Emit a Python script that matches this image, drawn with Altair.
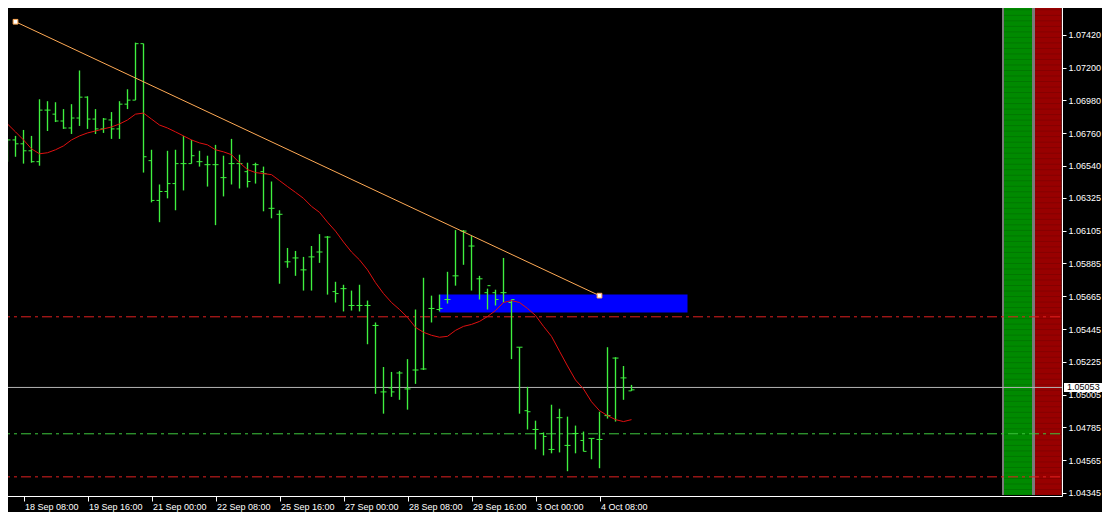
import altair as alt
import numpy as np
import pandas as pd

# ---------------- data ----------------
bar_index = list(range(-1, 79))
open_ = [1.06588, 1.06575, 1.06714, 1.06688, 1.06641, 1.06568, 1.06914, 1.06887, 1.06841, 1.06794,
         1.06861, 1.07001, 1.06854, 1.06788, 1.06848, 1.06788, 1.06954, 1.06981, 1.07360, 1.06575,
         1.06308, 1.06368, 1.06421, 1.06555, 1.06555, 1.06568, 1.06548, 1.06548, 1.06461, 1.06555,
         1.06555, 1.06501, 1.06548, 1.06501, 1.06255, 1.06215, 1.05896, 1.05922, 1.05842, 1.05929,
         1.05962, 1.06062, 1.05696, 1.05716, 1.05603, 1.05603, 1.05603, 1.05469, 1.05023, 1.05050,
         1.05150, 1.05043, 1.05170, 1.05177, 1.05583, 1.05576, 1.05643, 1.05802, 1.06102, 1.06002,
         1.05782, 1.05689, 1.05689, 1.05689, 1.05623, 1.05323, 1.04897, 1.04771, 1.04744, 1.04637,
         1.04850, 1.04664, 1.04744, 1.04697, 1.04711, 1.04704, 1.04864, 1.05250, 1.05117, 1.05030]
high = [1.06654, 1.06721, 1.06741, 1.06781, 1.06741, 1.06987, 1.06974, 1.06967, 1.06921, 1.06954,
        1.07180, 1.07007, 1.06921, 1.06861, 1.06901, 1.06974, 1.07054, 1.07367, 1.07360, 1.06648,
        1.06415, 1.06641, 1.06648, 1.06741, 1.06714, 1.06641, 1.06608, 1.06681, 1.06608, 1.06721,
        1.06615, 1.06561, 1.06561, 1.06535, 1.06435, 1.06242, 1.05989, 1.05969, 1.05929, 1.06002,
        1.06082, 1.06069, 1.05762, 1.05742, 1.05703, 1.05742, 1.05636, 1.05489, 1.05190, 1.05157,
        1.05163, 1.05243, 1.05576, 1.05789, 1.05669, 1.05676, 1.05829, 1.06109, 1.06109, 1.06069,
        1.05802, 1.05716, 1.05709, 1.05922, 1.05643, 1.05323, 1.05057, 1.04830, 1.04751, 1.04937,
        1.04910, 1.04857, 1.04797, 1.04757, 1.04711, 1.04890, 1.05323, 1.05256, 1.05197, 1.05070]
low = [1.06521, 1.06568, 1.06601, 1.06555, 1.06561, 1.06541, 1.06774, 1.06834, 1.06788, 1.06754,
       1.06808, 1.06788, 1.06754, 1.06761, 1.06721, 1.06721, 1.06921, 1.06981, 1.06495, 1.06295,
       1.06162, 1.06322, 1.06242, 1.06375, 1.06555, 1.06535, 1.06401, 1.06142, 1.06335, 1.06415,
       1.06388, 1.06395, 1.06421, 1.06235, 1.06188, 1.05749, 1.05856, 1.05802, 1.05703, 1.05703,
       1.05889, 1.05676, 1.05623, 1.05563, 1.05569, 1.05563, 1.05343, 1.05010, 1.04877, 1.04990,
       1.04970, 1.04904, 1.05077, 1.05170, 1.05489, 1.05563, 1.05616, 1.05736, 1.05876, 1.05703,
       1.05643, 1.05576, 1.05603, 1.05623, 1.05243, 1.04877, 1.04771, 1.04637, 1.04597, 1.04611,
       1.04617, 1.04491, 1.04611, 1.04624, 1.04571, 1.04511, 1.04844, 1.04824, 1.04970, 1.05030]
close = [1.06575, 1.06714, 1.06688, 1.06641, 1.06568, 1.06914, 1.06914, 1.06841, 1.06794, 1.06861,
         1.07001, 1.06854, 1.06788, 1.06854, 1.06788, 1.06954, 1.06981, 1.07360, 1.06601, 1.06308,
         1.06368, 1.06421, 1.06555, 1.06555, 1.06608, 1.06568, 1.06548, 1.06548, 1.06461, 1.06555,
         1.06555, 1.06435, 1.06548, 1.06488, 1.06255, 1.06215, 1.05896, 1.05922, 1.05842, 1.05929,
         1.05962, 1.06062, 1.05683, 1.05716, 1.05603, 1.05603, 1.05603, 1.05469, 1.05023, 1.05023,
         1.05150, 1.05043, 1.05170, 1.05177, 1.05583, 1.05583, 1.05643, 1.05802, 1.06102, 1.06002,
         1.05782, 1.05736, 1.05643, 1.05689, 1.05643, 1.05323, 1.04890, 1.04771, 1.04724, 1.04637,
         1.04850, 1.04664, 1.04744, 1.04624, 1.04711, 1.04704, 1.04864, 1.05250, 1.05117, 1.05037]
ma = [1.06861, 1.06821, 1.06768, 1.06714, 1.06654, 1.06621, 1.06628, 1.06648, 1.06674, 1.06714,
      1.06741, 1.06761, 1.06774, 1.06788, 1.06801, 1.06821, 1.06848, 1.06887, 1.06894, 1.06854,
      1.06814, 1.06794, 1.06768, 1.06741, 1.06714, 1.06694, 1.06681, 1.06648, 1.06634, 1.06615,
      1.06561, 1.06515, 1.06495, 1.06488, 1.06481, 1.06441, 1.06401, 1.06362, 1.06322, 1.06268,
      1.06228, 1.06162, 1.06102, 1.06029, 1.05962, 1.05909, 1.05842, 1.05756, 1.05683, 1.05623,
      1.05576, 1.05523, 1.05456, 1.05423, 1.05403, 1.05390, 1.05396, 1.05436, 1.05463, 1.05476,
      1.05496, 1.05529, 1.05569, 1.05623, 1.05636, 1.05623, 1.05583, 1.05536, 1.05463, 1.05396,
      1.05296, 1.05197, 1.05103, 1.05043, 1.04957, 1.04897, 1.04864, 1.04837, 1.04824, 1.04837]

x_tick_index = [2, 10, 18, 26, 34, 42, 50, 58, 66, 74]
x_tick_labels = ["18 Sep 08:00", "19 Sep 16:00", "21 Sep 00:00", "22 Sep 08:00", "25 Sep 16:00",
                 "27 Sep 00:00", "28 Sep 08:00", "29 Sep 16:00", "3 Oct 00:00", "4 Oct 08:00"]
y_ticks = [1.07640, 1.07420, 1.07200, 1.06980, 1.06760, 1.06540, 1.06325, 1.06105, 1.05885,
           1.05665, 1.05445, 1.05225, 1.05005, 1.04785, 1.04565, 1.04345]

trend_index = [1, 74]
trend_price = [1.07507, 1.05669]
zone_index = [54, 85]
zone_price = [1.05556, 1.05676]
red_levels = [1.05527, 1.04453]
green_levels = [1.04742]
current_price = 1.05053

# ---------------- layout constants ----------------
X_DOM = [-0.9375, 131.8125]
Y_DOM = [1.043245, 1.07653]
PANEL_GRAY = [124.3125, 131.75]
PANEL_GREEN = [124.5625, 128.0625]
PANEL_RED = [128.4375, 131.75]
PANEL_BOTTOM = 1.04331
FONT = "Liberation Sans"
BAR_COLOR = "#3ff03f"

xs = alt.Scale(domain=X_DOM, nice=False, zero=False)
ys = alt.Scale(domain=Y_DOM, nice=False, zero=False)

label_expr = "[" + ",".join("'%s'" % s for s in x_tick_labels) + "][(datum.value-2)/8]"
x_axis = alt.Axis(values=x_tick_index, labelExpr=label_expr, orient="bottom", grid=False, title=None,
                  domainColor="#ffffff", tickColor="#ffffff", labelColor="#ffffff", tickSize=5,
                  labelAlign="left", labelBaseline="top", labelOffset=1, labelPadding=1,
                  labelFont=FONT, labelFontSize=9, labelFlush=False, labelOverlap=False)
y_axis = alt.Axis(values=y_ticks, format=".5f", orient="right", grid=False, title=None,
                  domainColor="#ffffff", tickColor="#ffffff", labelColor="#ffffff", tickSize=4,
                  labelPadding=2, labelFont=FONT, labelFontSize=9, labelFlush=False,
                  labelOverlap=False, labelBound=False)

bars = pd.DataFrame({"i": bar_index, "open": open_, "high": high, "low": low,
                     "close": close, "ma": ma})

XA = dict(scale=xs, axis=x_axis)
YA = dict(scale=ys, axis=y_axis)

# side panels
panels = pd.DataFrame({
    "x0": [PANEL_GRAY[0], PANEL_GREEN[0], PANEL_RED[0]],
    "x1": [PANEL_GRAY[1], PANEL_GREEN[1], PANEL_RED[1]],
    "y0": [PANEL_BOTTOM] * 3, "y1": [Y_DOM[1]] * 3,
    "c": ["#7a7a7a", "#008a00", "#980000"],
})
panel_layer = alt.Chart(panels).mark_rect().encode(
    x=alt.X("x0:Q", **XA), x2="x1:Q",
    y=alt.Y("y0:Q", **YA), y2="y1:Q",
    color=alt.Color("c:N", scale=None))

stripe_levels = np.arange(PANEL_BOTTOM, Y_DOM[1], 0.00037)
stripes = pd.DataFrame({
    "p": np.concatenate([stripe_levels, stripe_levels]),
    "x0": [PANEL_GREEN[0]] * len(stripe_levels) + [PANEL_RED[0]] * len(stripe_levels),
    "x1": [PANEL_GREEN[1]] * len(stripe_levels) + [PANEL_RED[1]] * len(stripe_levels),
})
stripe_layer = alt.Chart(stripes).mark_rule(color="#000000", opacity=0.13, strokeWidth=1).encode(
    x=alt.X("x0:Q", **XA), x2="x1:Q", y=alt.Y("p:Q", **YA))

# horizontal levels
def level_layer(prices, color, dash):
    df = pd.DataFrame({"p": prices, "x0": [X_DOM[0]] * len(prices), "x1": [X_DOM[1]] * len(prices)})
    kw = dict(color=color, strokeWidth=1)
    if dash:
        kw["strokeDash"] = dash
    return alt.Chart(df).mark_rule(**kw).encode(
        x=alt.X("x0:Q", **XA), x2="x1:Q", y=alt.Y("p:Q", **YA))

red_lv = level_layer(red_levels, "#e02020", [10, 4, 3, 4])
green_lv = level_layer(green_levels, "#3ec83e", [10, 4, 3, 4])
cur_lv = level_layer([current_price], "#b4b4b4", None)

# zone rectangle
zone = pd.DataFrame({"x0": [zone_index[0]], "x1": [zone_index[1]],
                     "y0": [zone_price[0]], "y1": [zone_price[1]]})
zone_layer = alt.Chart(zone).mark_rect(color="#0000ff").encode(
    x=alt.X("x0:Q", **XA), x2="x1:Q", y=alt.Y("y0:Q", **YA), y2="y1:Q")

# OHLC bars
base = alt.Chart(bars)
hl = base.mark_rule(color=BAR_COLOR, strokeWidth=1.35, clip=True).encode(
    x=alt.X("i:Q", **XA), y=alt.Y("low:Q", **YA), y2="high:Q")
op = base.transform_calculate(xo="datum.i - 0.375").mark_rule(
    color=BAR_COLOR, strokeWidth=1, clip=True).encode(
    x=alt.X("xo:Q", **XA), x2="i:Q", y=alt.Y("open:Q", **YA))
cl = base.transform_calculate(xc="datum.i + 0.375").mark_rule(
    color=BAR_COLOR, strokeWidth=1, clip=True).encode(
    x=alt.X("i:Q", **XA), x2="xc:Q", y=alt.Y("close:Q", **YA))

ma_layer = base.mark_line(color="#e01010", strokeWidth=1, clip=True).encode(
    x=alt.X("i:Q", **XA), y=alt.Y("ma:Q", **YA))

trend = pd.DataFrame({"i": trend_index, "p": trend_price})
trend_line = alt.Chart(trend).mark_line(color="#ffaa55", strokeWidth=1).encode(
    x=alt.X("i:Q", **XA), y=alt.Y("p:Q", **YA))
trend_pts = alt.Chart(trend).mark_square(size=22, filled=True, color="#ffffff",
                                         stroke="#ffaa55", strokeWidth=1, opacity=1).encode(
    x=alt.X("i:Q", **XA), y=alt.Y("p:Q", **YA))

# current price label box
box = pd.DataFrame({"x0": [132.0625], "x1": [137.3125],
                    "y0": [current_price - 0.0003], "y1": [current_price + 0.0003],
                    "tx": [132.45], "p": [current_price], "t": ["%.5f" % current_price]})
box_layer = alt.Chart(box).mark_rect(color="#ffffff").encode(
    x=alt.X("x0:Q", **XA), x2="x1:Q", y=alt.Y("y0:Q", **YA), y2="y1:Q")
box_text = alt.Chart(box).mark_text(align="left", baseline="middle", color="#000000",
                                    font=FONT, fontSize=9).encode(
    x=alt.X("tx:Q", **XA), y=alt.Y("p:Q", **YA), text="t:N")

chart = alt.layer(
    panel_layer, stripe_layer, red_lv, green_lv, cur_lv, zone_layer,
    hl, op, cl, ma_layer, trend_line, trend_pts, box_layer, box_text
).properties(
    width=1062, height=496,
    autosize=alt.AutoSizeParams(type="none"),
    padding={"left": -8, "top": -8, "right": 40, "bottom": 16},
    background="#000000",
).configure_view(stroke=None).configure_axis(labelOverlap=False)

chart.save("out.html", embed_options={"renderer": "svg", "actions": False})
